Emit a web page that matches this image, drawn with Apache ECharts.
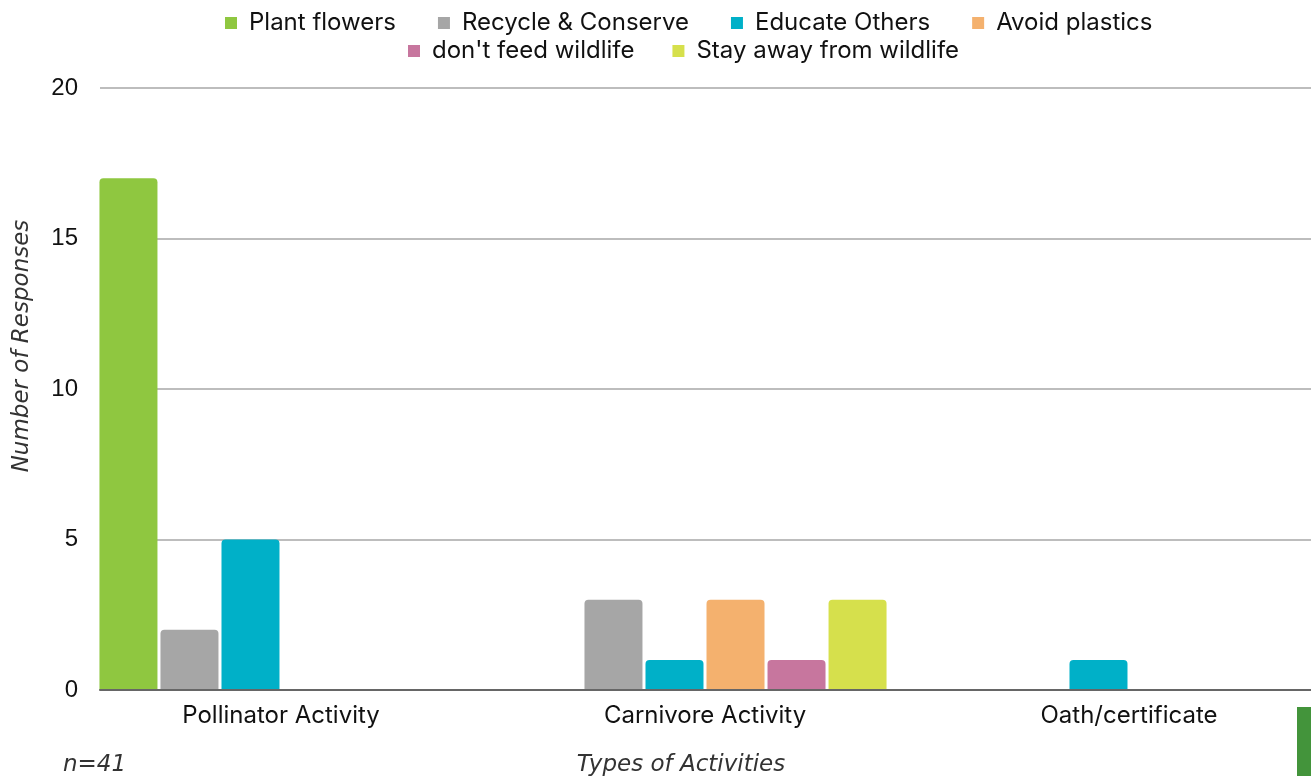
<!DOCTYPE html>
<html>
<head>
<meta charset="utf-8">
<script src="https://cdn.jsdelivr.net/npm/echarts@6/dist/echarts.min.js"></script>
<style>html,body{margin:0;padding:0;background:#fff}#c{width:1311px;height:776px}</style>
</head>
<body>
<div id="c"></div>
<script>
const categories = ['Pollinator Activity', 'Carnivore Activity', 'Oath/certificate'];
const seriesNames = ['Plant flowers', 'Recycle & Conserve', 'Educate Others', 'Avoid plastics', "don't feed wildlife", 'Stay away from wildlife'];
const plantFlowers = [17, 0, 0];
const recycleConserve = [2, 3, 0];
const educateOthers = [5, 1, 1];
const avoidPlastics = [0, 3, 0];
const dontFeedWildlife = [0, 1, 0];
const stayAwayFromWildlife = [0, 3, 0];
const yTicks = [0, 5, 10, 15, 20];
const colors = ['#8fc740', '#a6a6a6', '#00b0c8', '#f4b16e', '#c7769e', '#d6e04c'];
const values = [plantFlowers, recycleConserve, educateOthers, avoidPlastics, dontFeedWildlife, stayAwayFromWildlife];

const chart = echarts.init(document.getElementById('c'));
const titleFont = {fontFamily: 'DejaVu Sans', fontStyle: 'italic', fontWeight: 200, fontSize: 23, fill: '#333'};
const legendText = {fontFamily: 'Inter', fontSize: 24, color: '#111', padding: [0, 0, 0, 7]};
chart.setOption({
  animation: false,
  color: colors,
  legend: [
    {data: seriesNames.slice(0, 4), top: 11, left: 225, padding: 0, itemGap: 42,
     icon: 'rect', itemWidth: 12, itemHeight: 12, textStyle: legendText},
    {data: seriesNames.slice(4), top: 39, left: 408, padding: 0, itemGap: 38,
     icon: 'rect', itemWidth: 12, itemHeight: 12, textStyle: legendText}
  ],
  grid: [
    {left: 100, right: 0, top: 88, bottom: 86},
    {left: 69, width: 1272, top: 88, bottom: 86, outerBoundsMode: 'none'}
  ],
  xAxis: [
    {gridIndex: 0, type: 'category', data: categories, axisLabel: {show: false}, axisTick: {show: false},
     axisLine: {show: true, lineStyle: {color: '#666', width: 2}}, z: 10},
    {gridIndex: 1, type: 'category', data: categories, axisTick: {show: false}, axisLine: {show: false},
     axisLabel: {margin: 14, fontFamily: 'Inter', fontSize: 24, color: '#111'}}
  ],
  yAxis: [
    {gridIndex: 0, type: 'value', min: yTicks[0], max: yTicks[yTicks.length - 1], interval: 5,
     axisLine: {show: false}, axisTick: {show: false},
     axisLabel: {margin: 22, fontFamily: 'Liberation Sans', fontSize: 24, color: '#111'},
     splitLine: {lineStyle: {color: '#bdbdbd', width: 2}}},
    {gridIndex: 1, type: 'value', min: yTicks[0], max: yTicks[yTicks.length - 1], interval: 5, show: false}
  ],
  series: seriesNames.map((n, i) => ({
    name: n, type: 'bar', xAxisIndex: 1, yAxisIndex: 1, data: values[i],
    barWidth: 58, barGap: '5.2%', itemStyle: {color: colors[i], borderRadius: [4, 4, 0, 0]}
  })),
  graphic: [
    {type: 'text', x: 22, y: 346, rotation: Math.PI / 2, style: Object.assign({text: 'Number of Responses', align: 'center', verticalAlign: 'middle'}, titleFont)},
    {type: 'text', x: 681, y: 765, style: Object.assign({text: 'Types of Activities', align: 'center', verticalAlign: 'middle'}, titleFont)},
    {type: 'text', x: 63, y: 765, style: Object.assign({text: 'n=41', align: 'left', verticalAlign: 'middle'}, titleFont)},
    {type: 'rect', shape: {x: 1297, y: 707, width: 14, height: 69}, style: {fill: '#43943b'}}
  ]
});
</script>
</body>
</html>
